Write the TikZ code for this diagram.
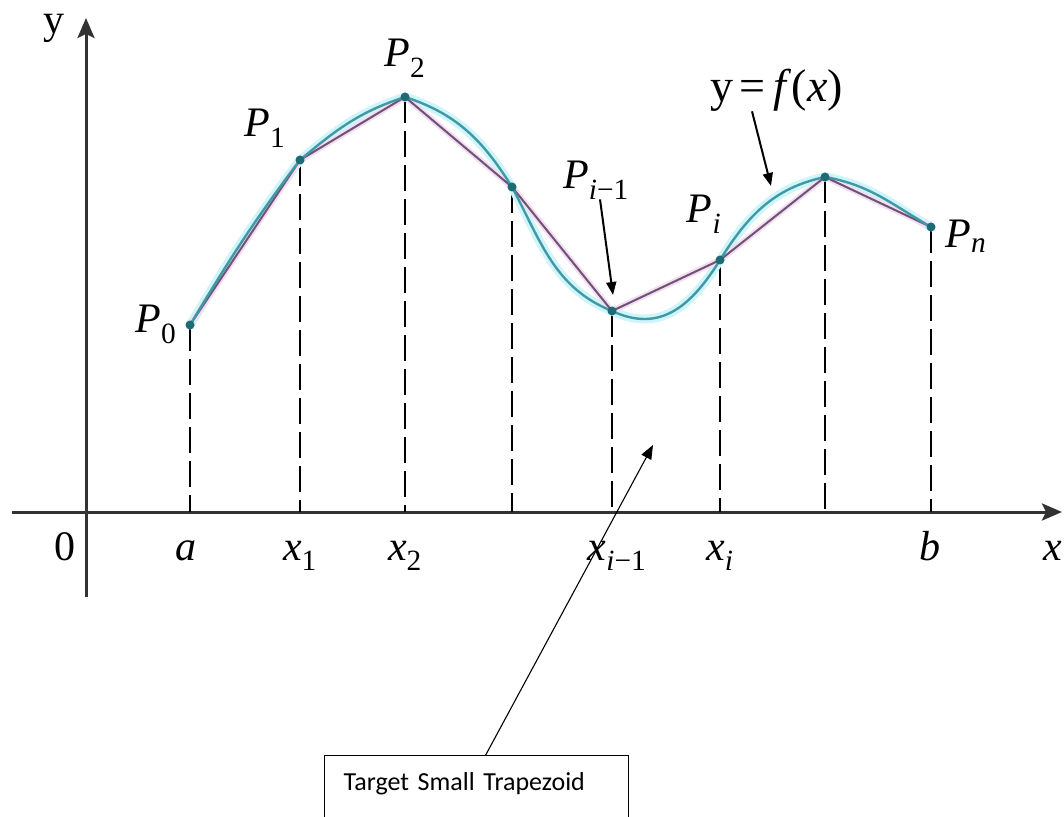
\documentclass[tikz,border=0pt]{standalone}
\usepackage{fontspec}
\setmainfont{Liberation Serif}
\newfontfamily\lblfont{Liberation Serif}
\newfontfamily\boxfont{Carlito}
\usetikzlibrary{arrows.meta}
\definecolor{crvTeal}{HTML}{3F9AA6}
\definecolor{crvGlow}{HTML}{CFF5FA}
\definecolor{chdPurp}{HTML}{6A5478}
\definecolor{chdGlow}{HTML}{F6DCEE}
\definecolor{dotTeal}{HTML}{1D6B75}
\definecolor{axGray}{HTML}{333333}
\newcommand{\lblsub}[2]{\textit{#1}\textsubscript{#2}}

\begin{document}
\begin{tikzpicture}[
  x=1pt, y=1pt,
  axis/.style={line width=3pt, draw=axGray,
    -{Stealth[length=20pt, width=17pt, inset=4pt]}},
  drop/.style={line width=2.6pt, dash pattern=on 26pt off 8pt},
  crvglow/.style={line width=9pt, draw=crvGlow, line cap=round},
  chdglow/.style={line width=6pt, draw=chdGlow, line cap=round},
  curve/.style={line width=2.4pt, draw=crvTeal},
  chord/.style={line width=2pt, draw=chdPurp},
  dot/.style={fill=dotTeal},
  plbl/.style={font=\lblfont\fontsize{42}{50}\selectfont, inner sep=0pt},
  tick/.style={font=\lblfont\fontsize{42}{50}\selectfont, inner sep=0pt, anchor=base},
  ann/.style={-{Triangle[length=13pt, width=10pt]}, line width=2pt},
  tgtar/.style={-{Triangle[length=14pt, width=11pt]}, line width=1.1pt},
  tbox/.style={draw, line width=1.4pt, anchor=north west, align=left,
    text width=266pt, inner xsep=19pt, inner ysep=17pt, text depth=60pt,
    font=\boxfont\fontsize{26}{30}\selectfont},
]
\useasboundingbox (-86,-304) rectangle (978,512);

% ---------------- sample points ----------------
\coordinate (o)     at (0,0);
\coordinate (p0)    at (104,187);
\coordinate (p1)    at (214,352);
\coordinate (p2)    at (319,415);
\coordinate (p3)    at (426,325);
\coordinate (pprev) at (526,201);
\coordinate (pcur)  at (634,252);
\coordinate (p6)    at (739,335);
\coordinate (pn)    at (845,285);

% ---------------- axes ----------------
\coordinate (xlo) at (-74,0);
\coordinate (xhi) at (976,0);
\coordinate (ylo) at (0,-85);
\coordinate (yhi) at (0,494);
\draw[axis] (xlo) -- (xhi);
\draw[axis] (ylo) -- (yhi);

% ---------------- ordinates ----------------
\foreach \p in {p0,p1,p2,p3,pprev,pcur,p6,pn}
  \draw[drop] (\p) -- (\p |- o);

% ---------------- glow under curve and polygon ----------------
\draw[crvglow] (p0) to[out=59,in=233] (p1) to[out=40,in=198] (p2)
  to[out=-18,in=122] (p3) to[out=-62,in=158] (pprev)
  to[out=-25,in=238,looseness=1.15] (pcur) to[out=58,in=192] (p6)
  to[out=-10,in=150] (pn);
\draw[chdglow] (p0) -- (p1) -- (p2) -- (p3) -- (pprev) -- (pcur) -- (p6) -- (pn);

% ---------------- polygon (trapezoid tops) ----------------
\draw[chord] (p0) -- (p1) -- (p2) -- (p3) -- (pprev) -- (pcur) -- (p6) -- (pn);

% ---------------- y = f(x) ----------------
\draw[curve] (p0) to[out=59,in=233] (p1) to[out=40,in=198] (p2)
  to[out=-18,in=122] (p3) to[out=-62,in=158] (pprev)
  to[out=-25,in=238,looseness=1.15] (pcur) to[out=58,in=192] (p6)
  to[out=-10,in=150] (pn);

\foreach \p in {p0,p1,p2,p3,pprev,pcur,p6,pn}
  \fill[dot] (\p) circle (4.5pt);

% ---------------- point labels ----------------
\node[plbl] (lp0)    at ([shift={(-34,1)}]p0)     {\lblsub{P}{0}};
\node[plbl] (lp1)    at ([shift={(-35,32)}]p1)    {\lblsub{P}{1}};
\node[plbl] (lp2)    at ([shift={(0,39)}]p2)      {\lblsub{P}{2}};
\node[plbl] (lpprev) at ([shift={(-16,131)}]pprev) {\lblsub{P}{\textit{i}−1}};
\node[plbl] (lpcur)  at ([shift={(-16,46)}]pcur)  {\lblsub{P}{\textit{i}}};
\node[plbl] (lpn)    at ([shift={(35,-9)}]pn)     {\lblsub{P}{\textit{n}}};

\node[plbl, font=\lblfont\fontsize{46}{54}\selectfont] (lfx) at (691,422)
  {y\hspace{6pt}=\hspace{8pt}\textit{f}(\textit{x})};

% ---------------- axis labels ----------------
\node[plbl] (ly) at (-32,484) {y};
\node[tick] (l0)     at (-21,-48) {0};
\node[tick] (la)     at (100,-48) {\textit{a}};
\node[tick] (lx1)    at (214,-48) {\lblsub{x}{1}};
\node[tick] (lx2)    at (319,-48) {\lblsub{x}{2}};
\node[tick] (lxprev) at (531,-48) {\lblsub{x}{\textit{i}−1}};
\node[tick] (lxcur)  at (634,-48) {\lblsub{x}{\textit{i}}};
\node[tick] (lb)     at (844,-48) {\textit{b}};
\node[tick] (lx)     at (967,-48) {\textit{x}};

% ---------------- pointers ----------------
\coordinate (fxmark)    at (685,326);
\coordinate (prevmark)  at (527,217);
\coordinate (gapmark)   at (567,67);
\draw[ann] ([xshift=-25pt]lfx.south) -- (fxmark);
\draw[ann] ([xshift=4pt]lpprev.south) -- (prevmark);

% ---------------- callout ----------------
\node[tbox] (trap) at (238,-243) {Target Small Trapezoid};
\draw[tgtar] ([xshift=9pt]trap.north) -- (gapmark);

\end{tikzpicture}
\end{document}
